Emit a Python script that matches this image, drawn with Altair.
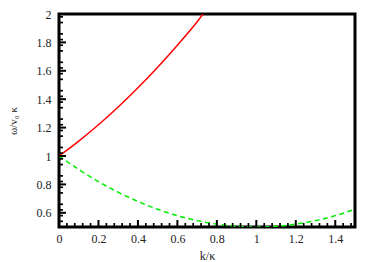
import altair as alt
import pandas as pd

# Data
k_upper = [0.0, 0.1, 0.2, 0.3, 0.4, 0.5, 0.6, 0.7, 0.73]
w_upper = [1.0, 1.105, 1.22, 1.345, 1.48, 1.625, 1.78, 1.945, 2.0]

k_lower = [0.0, 0.1, 0.2, 0.3, 0.4, 0.5, 0.6, 0.7, 0.8, 0.9, 1.0, 1.1, 1.2, 1.3, 1.4, 1.5]
w_lower = [1.0, 0.905, 0.82, 0.745, 0.68, 0.625, 0.58, 0.545, 0.52, 0.505, 0.5,
           0.505, 0.52, 0.545, 0.58, 0.625]

x_major = [0, 0.2, 0.4, 0.6, 0.8, 1.0, 1.2, 1.4]
y_major = [0.6, 0.8, 1.0, 1.2, 1.4, 1.6, 1.8, 2.0]
x_minor = [round(i * 0.04, 2) for i in range(1, 38) if i % 5 != 0]
y_minor = [round(0.5 + i * 0.04, 2) for i in range(1, 38) if (i % 5) != 0 and 0.5 + i * 0.04 < 2.0]

W, H = 296, 213
FONT = "'Liberation Serif', 'Times New Roman', 'DejaVu Serif', serif"

xs = alt.Scale(domain=[0, 1.5], nice=False, zero=False)
ys = alt.Scale(domain=[0.5, 2.0], nice=False, zero=False)

up = pd.DataFrame({"k": k_upper, "w": w_upper})
lo = pd.DataFrame({"k": k_lower, "w": w_lower})

x_axis = alt.Axis(values=x_major, format="~g", ticks=False, domain=False, grid=False,
                  labelOverlap=False, labelFlush=False,
                  labelFont=FONT, labelFontSize=12, labelColor="#222", labelPadding=6,
                  title="k/κ", titleFont=FONT, titleFontSize=12, titleFontWeight="normal",
                  titleColor="#222", titleY=28, titleBaseline="middle")
y_axis = alt.Axis(values=y_major, format="~g", ticks=False, domain=False, grid=False,
                  labelOverlap=False, labelFlush=False,
                  labelFont=FONT, labelFontSize=12, labelColor="#222", labelPadding=8,
                  title="ω/v₀ κ", titleFont=FONT, titleFontSize=11, titleFontWeight="normal",
                  titleColor="#222", titleX=-46, titleY=H / 2, titleAngle=270,
                  titleAlign="center", titleBaseline="middle")

red = alt.Chart(up).mark_line(color="#ff0000", strokeWidth=1.5, clip=True, interpolate="monotone").encode(
    x=alt.X("k:Q", scale=xs, axis=x_axis),
    y=alt.Y("w:Q", scale=ys, axis=y_axis),
)
green = alt.Chart(lo).mark_line(color="#00ee00", strokeWidth=1.5, strokeDash=[5, 3.5], clip=True,
                                interpolate="monotone").encode(
    x=alt.X("k:Q", scale=xs, axis=x_axis),
    y=alt.Y("w:Q", scale=ys, axis=y_axis),
)

xmaj = alt.Chart(pd.DataFrame({"v": x_major})).mark_rule(color="black", strokeWidth=2).encode(
    x=alt.X("v:Q", scale=xs, axis=x_axis), y=alt.value(H), y2=alt.value(H - 7))
xmin = alt.Chart(pd.DataFrame({"v": x_minor})).mark_rule(color="black", strokeWidth=1.7).encode(
    x=alt.X("v:Q", scale=xs, axis=x_axis), y=alt.value(H), y2=alt.value(H - 4))
ymaj = alt.Chart(pd.DataFrame({"v": y_major})).mark_rule(color="black", strokeWidth=2).encode(
    y=alt.Y("v:Q", scale=ys, axis=y_axis), x=alt.value(0), x2=alt.value(7))
ymin = alt.Chart(pd.DataFrame({"v": y_minor})).mark_rule(color="black", strokeWidth=1.7).encode(
    y=alt.Y("v:Q", scale=ys, axis=y_axis), x=alt.value(0), x2=alt.value(4))

chart = alt.layer(red, green, xmin, xmaj, ymin, ymaj).properties(
    width=W, height=H,
    autosize=alt.AutoSizeParams(type="none"),
    padding={"left": 51, "top": 6, "right": 11, "bottom": 40},
).configure(background="white").configure_view(stroke="black", strokeWidth=3)

chart.save("out.html", embed_options={"renderer": "svg", "actions": False})
